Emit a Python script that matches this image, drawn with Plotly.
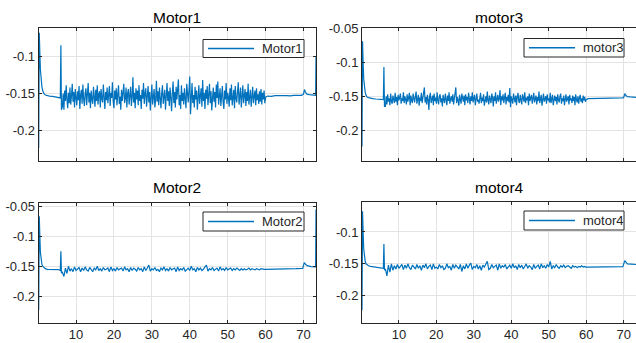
import plotly.graph_objects as go

# ---------------- data ----------------
names = ["Motor1", "motor3", "Motor2", "motor4"]

x_tick_vals = [10, 20, 30, 40, 50, 60, 70]
x_tick_text = ["10", "20", "30", "40", "50", "60", "70"]
y_tick_vals = [-0.2, -0.15, -0.1, -0.05]
y_tick_text = ["-0.2", "-0.15", "-0.1", "-0.05"]

# start-up transient (time, s)
t_head = [0.15, 0.3, 0.45, 0.6, 0.8, 1.0, 1.2, 1.5, 1.9, 2.4, 3.0, 3.8, 4.6, 5.4, 5.85, 6.0, 6.15]
# noisy running part: fine grid (0.2 s, 6.4..59.8) and coarse grid (0.4 s, 6.4..59.6)
t_noise_fine = [round(6.4 + 0.2 * i, 2) for i in range(268)]
t_noise = [round(6.4 + 0.4 * i, 2) for i in range(134)]

m1_head = [-0.2236, -0.068, -0.095, -0.118, -0.132, -0.141, -0.146, -0.150, -0.152, -0.153,
           -0.1535, -0.154, -0.1545, -0.155, -0.156, -0.085, -0.172]
m1_noise = [-0.168, -0.150, -0.172, -0.146, -0.160, -0.139, -0.158, -0.170, -0.149, -0.163,
            -0.142, -0.165, -0.153, -0.137, -0.161, -0.148, -0.169, -0.144, -0.156, -0.166,
            -0.147, -0.159, -0.140, -0.171, -0.152, -0.145, -0.164, -0.138, -0.157, -0.167,
            -0.150, -0.143, -0.166, -0.155, -0.136, -0.162, -0.149, -0.170, -0.146, -0.158,
            -0.164, -0.141, -0.153, -0.168, -0.145, -0.160, -0.139, -0.165, -0.151, -0.147,
            -0.169, -0.144, -0.157, -0.162, -0.138, -0.154, -0.171, -0.148, -0.159, -0.142,
            -0.163, -0.152, -0.140, -0.167, -0.149, -0.156, -0.135, -0.161, -0.170, -0.146,
            -0.158, -0.143, -0.166, -0.151, -0.139, -0.164, -0.154, -0.172, -0.145, -0.160,
            -0.148, -0.137, -0.163, -0.157, -0.142, -0.169, -0.150, -0.144, -0.165, -0.153,
            -0.141, -0.167, -0.155, -0.128, -0.162, -0.149, -0.170, -0.143, -0.158, -0.146,
            -0.166, -0.139, -0.160, -0.152, -0.171, -0.145, -0.157, -0.136, -0.164, -0.150,
            -0.143, -0.168, -0.155, -0.140, -0.162, -0.148, -0.173, -0.153, -0.138, -0.165,
            -0.151, -0.144, -0.169, -0.158, -0.133, -0.161, -0.147, -0.166, -0.142, -0.156,
            -0.170, -0.149, -0.139, -0.164, -0.152, -0.145, -0.172, -0.157, -0.136, -0.160,
            -0.147, -0.167, -0.142, -0.155, -0.174, -0.150, -0.134, -0.163, -0.148, -0.169,
            -0.141, -0.158, -0.146, -0.131, -0.166, -0.152, -0.171, -0.139, -0.160, -0.149,
            -0.165, -0.143, -0.157, -0.170, -0.137, -0.154, -0.162, -0.145, -0.127, -0.178,
            -0.148, -0.136, -0.163, -0.152, -0.169, -0.141, -0.158, -0.146, -0.172, -0.150,
            -0.139, -0.164, -0.155, -0.143, -0.168, -0.132, -0.160, -0.149, -0.171, -0.145,
            -0.157, -0.140, -0.166, -0.151, -0.137, -0.163, -0.147, -0.173, -0.154, -0.142,
            -0.161, -0.148, -0.169, -0.138, -0.156, -0.134, -0.165, -0.150, -0.143, -0.167,
            -0.152, -0.140, -0.162, -0.171, -0.146, -0.158, -0.136, -0.164, -0.149, -0.155,
            -0.168, -0.143, -0.159, -0.138, -0.166, -0.151, -0.145, -0.170, -0.140, -0.157,
            -0.162, -0.147, -0.135, -0.165, -0.153, -0.142, -0.169, -0.150, -0.139, -0.163,
            -0.156, -0.144, -0.167, -0.148, -0.160, -0.137, -0.165, -0.152, -0.145, -0.168,
            -0.150, -0.141, -0.163, -0.155, -0.146, -0.166, -0.143, -0.159, -0.151, -0.164,
            -0.147, -0.161, -0.144, -0.165, -0.149, -0.158, -0.146, -0.163]
m1_t_tail = [60.0, 60.5, 61.5, 62.5, 63.5, 64.5, 65.5, 66.5, 67.5, 68.5, 69.5, 70.0, 70.25, 70.5,
             70.9, 71.5, 72.2, 73.2, 73.3]
m1_tail = [-0.155, -0.1535, -0.154, -0.153, -0.1535, -0.153, -0.1528, -0.1532, -0.1525, -0.153,
           -0.1525, -0.151, -0.1447, -0.148, -0.151, -0.1515, -0.152, -0.1525, -0.100]

m3_head = [-0.224, -0.069, -0.100, -0.124, -0.137, -0.144, -0.148, -0.151, -0.152, -0.153,
           -0.1535, -0.154, -0.154, -0.1545, -0.155, -0.107, -0.165]
m3_noise = [-0.165, -0.150, -0.162, -0.147, -0.158, -0.153, -0.163, -0.146, -0.157, -0.161,
            -0.149, -0.155, -0.160, -0.145, -0.158, -0.151, -0.163, -0.148, -0.156, -0.152,
            -0.146, -0.161, -0.153, -0.157, -0.144, -0.160, -0.150, -0.155, -0.162, -0.147,
            -0.158, -0.152, -0.145, -0.163, -0.149, -0.156, -0.160, -0.146, -0.154, -0.159,
            -0.150, -0.143, -0.161, -0.155, -0.148, -0.164, -0.152, -0.157, -0.145, -0.160,
            -0.153, -0.147, -0.137, -0.159, -0.151, -0.162, -0.148, -0.155, -0.170, -0.150,
            -0.145, -0.160, -0.154, -0.149, -0.163, -0.146, -0.157, -0.152, -0.161, -0.144,
            -0.156, -0.162, -0.150, -0.147, -0.159, -0.153, -0.165, -0.148, -0.155, -0.160,
            -0.146, -0.152, -0.163, -0.149, -0.157, -0.144, -0.161, -0.154, -0.150, -0.158,
            -0.147, -0.162, -0.153, -0.145, -0.137, -0.160, -0.151, -0.156, -0.164, -0.148,
            -0.155, -0.161, -0.146, -0.152, -0.158, -0.149, -0.163, -0.147, -0.156, -0.151,
            -0.160, -0.145, -0.154, -0.162, -0.150, -0.157, -0.144, -0.159, -0.153, -0.148,
            -0.163, -0.151, -0.146, -0.158, -0.155, -0.161, -0.149, -0.145, -0.160, -0.152,
            -0.157, -0.147, -0.164, -0.153, -0.150, -0.159, -0.143, -0.156, -0.162, -0.149,
            -0.154, -0.160, -0.146, -0.152, -0.165, -0.150, -0.157, -0.144, -0.161, -0.155,
            -0.148, -0.158, -0.153, -0.141, -0.163, -0.150, -0.156, -0.147, -0.160, -0.152,
            -0.145, -0.162, -0.151, -0.157, -0.148, -0.159, -0.138, -0.166, -0.150, -0.155,
            -0.161, -0.146, -0.153, -0.159, -0.149, -0.163, -0.151, -0.145, -0.157, -0.160,
            -0.148, -0.155, -0.162, -0.147, -0.153, -0.158, -0.144, -0.160, -0.152, -0.156,
            -0.150, -0.163, -0.146, -0.157, -0.152, -0.148, -0.161, -0.154, -0.145, -0.159,
            -0.155, -0.149, -0.162, -0.151, -0.157, -0.143, -0.160, -0.153, -0.148, -0.164,
            -0.152, -0.146, -0.158, -0.155, -0.150, -0.161, -0.147, -0.156, -0.153, -0.159,
            -0.145, -0.160, -0.152, -0.148, -0.163, -0.154, -0.149, -0.157, -0.151, -0.162,
            -0.147, -0.155, -0.159, -0.150, -0.146, -0.161, -0.153, -0.157, -0.149, -0.163,
            -0.152, -0.147, -0.158, -0.155, -0.150, -0.162, -0.148, -0.156, -0.153, -0.160,
            -0.149, -0.157, -0.151, -0.163, -0.147, -0.155, -0.159, -0.150, -0.161, -0.152,
            -0.148, -0.158, -0.153, -0.160, -0.149, -0.156, -0.151, -0.158]
m3_t_tail = [60.0, 60.5, 61.5, 62.5, 63.5, 64.5, 65.5, 66.5, 67.5, 68.5, 69.5, 70.0, 70.3, 70.6,
             71.0, 71.8, 72.6, 73.3]
m3_tail = [-0.155, -0.1535, -0.1535, -0.153, -0.1535, -0.153, -0.153, -0.1532, -0.1528, -0.153,
           -0.1525, -0.152, -0.146, -0.149, -0.1505, -0.151, -0.1512, -0.1515]

m2_head = [-0.2225, -0.067, -0.100, -0.127, -0.140, -0.147, -0.150, -0.152, -0.154, -0.155,
           -0.155, -0.155, -0.155, -0.1555, -0.157, -0.125, -0.161]
m2_noise = [-0.160, -0.167, -0.153, -0.162, -0.150, -0.158, -0.154, -0.159, -0.151, -0.157,
            -0.155, -0.152, -0.159, -0.153, -0.157, -0.151, -0.156, -0.158, -0.152, -0.155,
            -0.159, -0.153, -0.156, -0.150, -0.157, -0.154, -0.158, -0.152, -0.156, -0.155,
            -0.153, -0.159, -0.151, -0.157, -0.154, -0.158, -0.152, -0.156, -0.155, -0.153,
            -0.158, -0.151, -0.156, -0.154, -0.159, -0.152, -0.157, -0.153, -0.155, -0.158,
            -0.152, -0.156, -0.154, -0.159, -0.151, -0.157, -0.153, -0.148, -0.158, -0.154,
            -0.156, -0.152, -0.157, -0.155, -0.159, -0.153, -0.156, -0.151, -0.157, -0.154,
            -0.158, -0.152, -0.156, -0.155, -0.153, -0.159, -0.151, -0.157, -0.154, -0.156,
            -0.152, -0.158, -0.155, -0.153, -0.157, -0.150, -0.156, -0.154, -0.159, -0.152,
            -0.156, -0.153, -0.157, -0.155, -0.151, -0.148, -0.158, -0.154, -0.156, -0.152,
            -0.157, -0.155, -0.153, -0.158, -0.151, -0.156, -0.154, -0.157, -0.152, -0.156,
            -0.155, -0.153, -0.157, -0.154, -0.156, -0.153, -0.155, -0.157, -0.154, -0.156,
            -0.154, -0.156, -0.155, -0.153, -0.156, -0.154, -0.155, -0.156, -0.154, -0.155,
            -0.156, -0.154, -0.155, -0.155]
m2_t_tail = [59.8, 60.5, 62.0, 64.0, 66.0, 68.0, 69.8, 70.2, 70.6, 71.0, 72.0, 73.2, 73.3]
m2_tail = [-0.155, -0.155, -0.1545, -0.155, -0.1545, -0.154, -0.1535, -0.144, -0.147, -0.149,
           -0.1505, -0.151, -0.056]

m4_head = [-0.2226, -0.0675, -0.100, -0.126, -0.139, -0.146, -0.150, -0.152, -0.153, -0.154,
           -0.1545, -0.155, -0.155, -0.1555, -0.157, -0.119, -0.160]
m4_noise = [-0.158, -0.169, -0.152, -0.163, -0.150, -0.160, -0.153, -0.158, -0.151, -0.157,
            -0.154, -0.151, -0.159, -0.152, -0.157, -0.150, -0.156, -0.159, -0.152, -0.155,
            -0.158, -0.151, -0.157, -0.153, -0.160, -0.152, -0.156, -0.150, -0.158, -0.154,
            -0.152, -0.159, -0.150, -0.157, -0.155, -0.158, -0.151, -0.156, -0.153, -0.159,
            -0.157, -0.150, -0.156, -0.154, -0.160, -0.151, -0.157, -0.152, -0.155, -0.158,
            -0.151, -0.162, -0.153, -0.158, -0.150, -0.157, -0.152, -0.149, -0.159, -0.154,
            -0.156, -0.151, -0.158, -0.153, -0.160, -0.152, -0.155, -0.150, -0.146, -0.159,
            -0.157, -0.151, -0.156, -0.154, -0.152, -0.160, -0.150, -0.157, -0.153, -0.155,
            -0.151, -0.158, -0.154, -0.152, -0.157, -0.150, -0.156, -0.153, -0.159, -0.151,
            -0.156, -0.152, -0.158, -0.154, -0.150, -0.157, -0.153, -0.155, -0.159, -0.151,
            -0.157, -0.154, -0.152, -0.158, -0.150, -0.156, -0.153, -0.157, -0.151, -0.155,
            -0.146, -0.158, -0.153, -0.156, -0.151, -0.155, -0.157, -0.153, -0.155, -0.152,
            -0.156, -0.154, -0.153, -0.155, -0.157, -0.153, -0.155, -0.154, -0.156, -0.154,
            -0.155, -0.153, -0.155, -0.154]
m4_t_tail = [59.8, 60.5, 62.0, 64.0, 66.0, 68.0, 69.8, 70.3, 70.6, 71.0, 72.0, 73.3]
m4_tail = [-0.155, -0.155, -0.1548, -0.155, -0.1545, -0.155, -0.1545, -0.145, -0.148, -0.150,
           -0.1505, -0.151]

y_ranges = [[-0.2405, -0.062], [-0.2446, -0.0499], [-0.2433, -0.0442], [-0.242, -0.053]]
x_range = [0.15, 73.3]

# ---------------- layout helpers ----------------
W, H = 636, 343
LINE = "#0072BD"
AX = "#262626"
FONT = "Liberation Sans, Arial, Helvetica, sans-serif"


def px_x(p):
    return p / W


def px_y(p):
    return 1 - p / H


# panel boxes in pixels: (left, right, top, bottom)
boxes = [(38.7, 316.0, 28.3, 160.5), (362.0, 636.0, 28.3, 160.5),
         (38.7, 316.0, 202.5, 322.5), (362.0, 636.0, 202.0, 322.5)]
title_y = [17, 17, 187.5, 187.5]
# legend boxes in pixels: (left, right, top, bottom)
legend_boxes = [(203, 304, 39.5, 57.5), (524, 624, 38.5, 57.0),
                (203, 304, 212, 231), (524, 624, 211, 230)]

series = [
    (t_head + t_noise_fine + m1_t_tail, m1_head + m1_noise + m1_tail),
    (t_head + t_noise_fine + m3_t_tail, m3_head + m3_noise + m3_tail),
    (t_head + t_noise + m2_t_tail, m2_head + m2_noise + m2_tail),
    (t_head + t_noise + m4_t_tail, m4_head + m4_noise + m4_tail),
]

fig = go.Figure()
layout = dict(
    width=W, height=H, margin=dict(l=0, r=0, t=0, b=0, pad=0),
    paper_bgcolor="white", plot_bgcolor="white",
    font=dict(family=FONT, size=13, color=AX),
    showlegend=False, annotations=[], shapes=[],
)

for i, (name, (tx, ty)) in enumerate(zip(names, series)):
    k = "" if i == 0 else str(i + 1)
    fig.add_trace(go.Scatter(
        x=tx, y=ty, mode="lines", name=name,
        line=dict(color=LINE, width=1.2),
        xaxis="x" + k, yaxis="y" + k,
    ))
    l, r, t, b = boxes[i]
    is_bottom = i >= 2
    is_right = i % 2 == 1
    layout["xaxis" + k] = dict(
        domain=[px_x(l), px_x(r)], range=x_range, anchor="y" + k,
        tickvals=x_tick_vals, ticktext=x_tick_text, showticklabels=is_bottom,
        ticks="inside", ticklen=3, tickcolor=AX,
        showline=True, linecolor=AX, linewidth=1, mirror="ticks",
        showgrid=True, gridcolor="#e3e3e3", gridwidth=1, zeroline=False,
        tickfont=dict(size=13, color=AX), automargin=False,
    )
    layout["yaxis" + k] = dict(
        domain=[px_y(b), px_y(t)], range=y_ranges[i], anchor="x" + k,
        tickvals=y_tick_vals, ticktext=y_tick_text,
        ticks="inside", ticklen=3, tickcolor=AX,
        showline=True, linecolor=AX, linewidth=1,
        mirror=False if is_right else "ticks",
        showgrid=True, gridcolor="#e3e3e3", gridwidth=1, zeroline=False,
        tickfont=dict(size=13, color=AX), automargin=False,
    )
    # subplot title
    layout["annotations"].append(dict(
        text=name, x=px_x((l + r) / 2), y=px_y(title_y[i]),
        xref="paper", yref="paper", xanchor="center", yanchor="middle",
        showarrow=False, font=dict(family=FONT, size=15.5, color="black"),
    ))
    # legend (MATLAB style box)
    gl, gr, gt, gb = legend_boxes[i]
    gy = (gt + gb) / 2
    layout["shapes"].append(dict(
        type="rect", xref="paper", yref="paper",
        x0=px_x(gl), x1=px_x(gr), y0=px_y(gb), y1=px_y(gt),
        line=dict(color=AX, width=1), fillcolor="white", layer="above",
    ))
    layout["shapes"].append(dict(
        type="line", xref="paper", yref="paper",
        x0=px_x(gl + 5), x1=px_x(gl + 51), y0=px_y(gy), y1=px_y(gy),
        line=dict(color=LINE, width=1.3), layer="above",
    ))
    layout["annotations"].append(dict(
        text=name, x=px_x(gl + 57), y=px_y(gy),
        xref="paper", yref="paper", xanchor="left", yanchor="middle",
        showarrow=False, font=dict(family=FONT, size=13, color=AX),
    ))

fig.update_layout(**layout)
fig.write_html("out.html", config={"displayModeBar": False},
               post_script="document.body.style.margin='0px';")
